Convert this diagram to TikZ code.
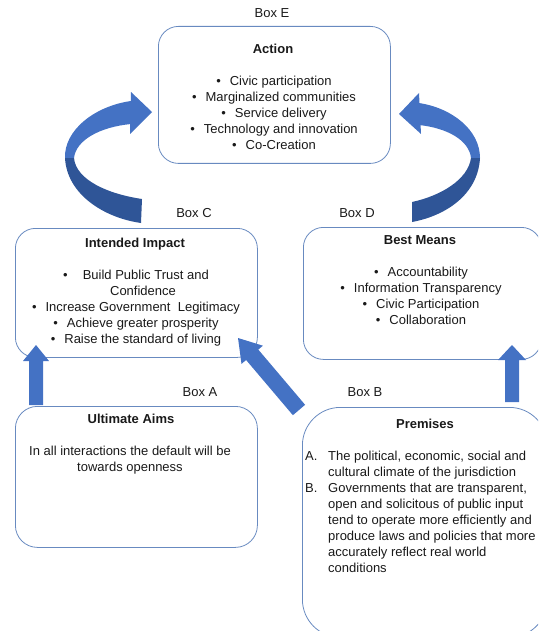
\documentclass[tikz,border=0pt]{standalone}
\usepackage{fontspec}
\setmainfont{Liberation Sans}
\definecolor{boxblue}{RGB}{104,138,192}
\definecolor{arrowblue}{RGB}{68,114,196}
\definecolor{arrowdark}{RGB}{47,85,151}
\definecolor{txt}{RGB}{25,25,25}
\begin{document}
\begin{tikzpicture}[x=1pt,y=-1pt,
  font=\fontsize{13}{16}\selectfont,
  every node/.style={text=txt, inner sep=0pt},
  box/.style={draw=boxblue, line width=0.8pt, rounded corners=#1, anchor=north west},
  box/.default=20pt,
  lbl/.style={anchor=center},
  ttl/.style={anchor=base, font=\fontsize{13}{16}\selectfont\bfseries},
  lst/.style={anchor=north, align=center},
  blk/.style={fill=arrowblue, draw=none},
  blkdark/.style={fill=arrowdark, draw=none}]
\useasboundingbox (0,0) rectangle (538,631);
\clip (0,0) rectangle (538,631);

% boxes
\node[box, minimum width=232pt, minimum height=137pt] (E) at (158,26) {};
\node[box, minimum width=242pt, minimum height=129pt] (C) at (15,228) {};
\node[box, minimum width=238pt, minimum height=132pt] (D) at (303,227) {};
\node[box=22pt, minimum width=242pt, minimum height=141pt] (A) at (15,406) {};
\node[box=38pt, minimum width=245pt, minimum height=230pt] (B) at (302,407) {};

% box labels
\node[lbl] (labE) at (272,13) {Box E};
\node[lbl] (labC) at (194,213) {Box C};
\node[lbl] (labD) at (357,213) {Box D};
\node[lbl] (labA) at (200,392) {Box A};
\node[lbl] (labB) at (365,392) {Box B};

% titles
\node[ttl] (tE) at (273,53.7) {Action};
\node[ttl] (tC) at (135,247.7) {Intended Impact};
\node[ttl] (tD) at (420,244.7) {Best Means};
\node[ttl] (tA) at (131,423.7) {Ultimate Aims};
\node[ttl] (tB) at (425,428.7) {Premises};

% contents
\node[lst] (lE) at (274,76) {%
  \textbullet\hspace{9pt}Civic participation\\
  \textbullet\hspace{9pt}Marginalized communities\\
  \textbullet\hspace{9pt}Service delivery\\
  \textbullet\hspace{9pt}Technology and innovation\\
  \textbullet\hspace{9pt}Co-Creation};
\node[lst] (lC) at (136,270) {%
  \textbullet\hspace{15pt}Build Public Trust and\\
  \hspace{14pt}Confidence\\
  \textbullet\hspace{9pt}Increase Government\ \ Legitimacy\\
  \textbullet\hspace{9pt}Achieve greater prosperity\\
  \textbullet\hspace{9pt}Raise the standard of living};
\node[lst] (lD) at (421,267) {%
  \textbullet\hspace{9pt}Accountability\\
  \textbullet\hspace{9pt}Information Transparency\\
  \textbullet\hspace{9pt}Civic Participation\\
  \textbullet\hspace{9pt}Collaboration};
\node[lst] (lA) at (130,446) {%
  In all interactions the default will be\\
  towards openness};
\node[anchor=north west] (lB) at (305,449) {%
  \begin{tabular}{@{}p{23pt}@{}l@{}}
  A. & The political, economic, social and\\
     & cultural climate of the jurisdiction\\
  B. & Governments that are transparent,\\
     & open and solicitous of public input\\
     & tend to operate more efficiently and\\
     & produce laws and policies that more\\
     & accurately reflect real world\\
     & conditions
  \end{tabular}};

% straight block arrows
\fill[blk] (29,405) -- (29,361) -- (23,361) -- (36,345) -- (49,361) -- (43,361) -- (43,405) -- cycle;
\fill[blk] (505,402) -- (505,360) -- (498,360) -- (512,345) -- (526,360) -- (519,360) -- (519,402) -- cycle;
\fill[blk] (305.1,404.8) -- (258.3,349.6) -- (262.9,345.7) -- (238,338) -- (241.5,363.9) -- (246.1,360) -- (292.9,415.2) -- cycle;

% left curved arrow (C to E)
\fill[blkdark] (65,158) .. controls (67,195) and (105,218) .. (141,223) -- (142,199) .. controls (108,194) and (76,180) .. (74,158) -- cycle;
\fill[blk] (131,101) .. controls (95,106) and (64,130) .. (65,158) -- (74,158) .. controls (76,140) and (100,127) .. (131,124) -- cycle;
\fill[blk] (131,92) -- (152,112) -- (130,134) -- cycle;

% right curved arrow (D to E)
\fill[blkdark] (480,158) .. controls (478,195) and (445,216) .. (412,222) -- (412,202) .. controls (440,196) and (468,180) .. (471,158) -- cycle;
\fill[blk] (419,103) .. controls (452,108) and (480,130) .. (480,158) -- (471,158) .. controls (469,140) and (447,128) .. (419,125) -- cycle;
\fill[blk] (419,93) -- (399,114) -- (421,134) -- cycle;
\end{tikzpicture}
\end{document}
